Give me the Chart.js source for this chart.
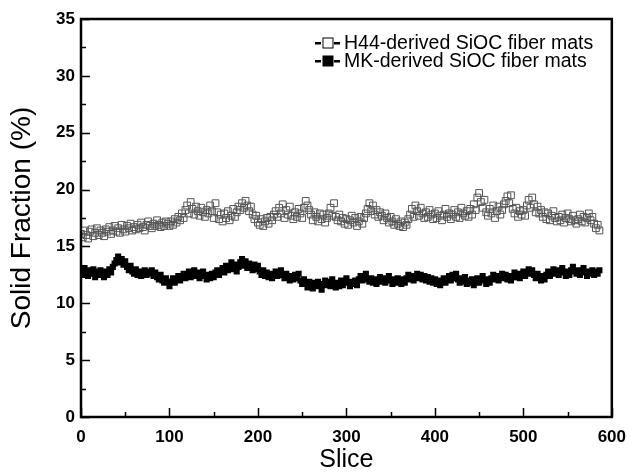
<!DOCTYPE html>
<html>
<head>
<meta charset="utf-8">
<script src="https://cdn.jsdelivr.net/npm/chart.js@4.4.0/dist/chart.umd.min.js"></script>
<style>
    html, body { margin: 0; padding: 0; background: #fff; }
    #wrap { width: 636px; height: 473px; }
</style>
</head>
<body>
<div id="wrap"><canvas id="solidFractionChart" width="636" height="473"></canvas></div>
<script>
// slice spacing between stored points
const sliceStep = 2;

// H44-derived SiOC fiber mats, solid fraction (%) every 2 slices from 0
const h44Values = [
    16.1, 15.8, 16.4, 16.0, 15.7, 16.3, 16.5, 15.9, 16.2, 16.6,
    16.0, 16.4, 16.2, 15.9, 16.5, 16.3, 16.7, 16.1, 16.4, 16.8,
    16.3, 16.6, 16.2, 16.9, 16.5, 16.3, 16.8, 16.6, 17.0, 16.4,
    16.7, 16.5, 16.9, 16.6, 17.1, 16.7, 16.4, 16.9, 17.2, 16.8,
    16.6, 17.0, 16.8, 17.3, 16.9, 16.7, 17.1, 16.8, 17.2, 17.0,
    16.8, 17.2, 16.9, 17.4, 17.1, 17.6, 17.3, 17.9, 17.5, 18.2,
    18.6, 17.9, 18.9, 18.3, 17.8, 18.5, 18.1, 17.7, 18.4, 18.0,
    17.6, 18.2, 17.9, 18.6, 18.1, 17.5, 18.8, 18.0, 17.4, 17.8,
    17.2, 17.9, 17.5, 18.1, 17.3, 17.7, 18.3, 17.6, 18.0, 18.5,
    18.2, 18.8, 18.4, 19.0, 18.6, 18.1, 18.5, 17.8, 17.4, 17.7,
    17.1, 16.9, 17.4, 16.8, 17.2, 17.5, 17.0, 17.6, 17.3, 17.8,
    18.1, 17.6, 18.4, 17.9, 18.7, 17.5, 18.2, 17.8, 18.5, 17.7,
    17.4, 18.0, 17.6, 18.3, 17.9, 17.5, 18.4, 19.0, 18.6, 18.2,
    17.8, 17.3, 18.0, 17.6, 17.2, 17.9, 17.4, 17.8, 17.1, 17.5,
    17.9, 18.4, 17.7, 18.8, 17.6, 17.3, 17.8, 17.2, 17.5, 17.0,
    17.4, 16.9, 17.3, 17.7, 17.1, 17.5, 16.8, 17.2, 17.6, 17.0,
    17.5, 17.9, 18.3, 18.8, 18.1, 18.6, 17.8, 18.2, 17.6, 18.0,
    17.7, 17.3, 17.9, 17.5, 17.1, 17.6, 17.2, 16.9, 17.4, 17.0,
    16.8, 17.2, 16.7, 17.1, 16.9, 17.4, 17.8, 18.3, 17.6, 18.6,
    18.1, 17.7, 18.4, 17.9, 17.5, 18.0, 17.6, 18.2, 17.8, 17.4,
    17.9, 17.5, 18.1, 17.7, 17.3, 17.8, 18.3, 17.6, 17.9, 17.4,
    17.8, 18.2, 17.6, 18.0, 17.5, 18.4, 17.9, 17.7, 18.1, 17.6,
    18.3, 17.8, 18.7, 18.2, 19.3, 19.7, 18.9, 18.4, 19.1, 18.0,
    17.7, 18.3, 17.9, 18.6, 17.5, 18.1, 18.5, 17.8, 18.2, 18.7,
    19.0, 19.4, 18.8, 19.5, 18.3, 17.9, 18.4, 17.6, 18.1, 17.8,
    18.2, 17.7, 18.6, 19.1, 18.4, 19.3, 18.7, 18.0, 18.5, 17.9,
    18.2, 17.6, 18.0, 17.4, 17.9, 17.3, 17.7, 18.1, 17.5, 17.2,
    17.6, 17.3, 17.8, 17.1, 17.5, 17.9, 17.4, 17.2, 17.7, 17.3,
    17.0, 17.4, 17.8, 17.2, 17.6, 17.1, 17.5, 17.9, 17.3, 17.6,
    17.0, 16.6, 16.9, 16.4
];

// MK-derived SiOC fiber mats, solid fraction (%) every 2 slices from 0
const mkValues = [
    12.9, 12.5, 13.1, 12.7, 12.4, 12.9, 12.6, 13.0, 12.3, 12.8,
    12.5, 12.9, 12.6, 12.3, 12.8, 12.5, 13.0, 12.7, 13.2, 13.5,
    13.8, 14.1, 13.6, 13.9, 13.4, 13.7, 13.2, 12.9, 13.3, 12.8,
    12.6, 13.0, 12.5, 12.8, 12.4, 12.7, 12.9, 12.5, 12.8, 12.6,
    12.9, 12.4, 12.7, 12.3, 12.1, 12.5, 12.0, 11.8, 12.2, 11.9,
    11.5, 11.9, 12.2, 11.8, 12.1, 12.4, 12.0, 12.3, 12.6, 12.2,
    12.5, 12.8, 12.3, 12.6, 12.9, 12.4, 12.7, 12.2, 12.5, 12.8,
    12.4, 12.1, 12.5, 12.2, 12.6, 12.3, 12.7, 12.9, 12.5, 12.8,
    13.1, 12.7, 13.3, 12.9, 13.2, 13.6, 13.0, 13.4, 12.8, 13.2,
    13.6, 13.9, 13.3, 13.7, 13.1, 13.5, 13.2, 12.9, 13.4, 13.0,
    13.3, 12.8, 12.5, 12.9, 12.4, 12.7, 12.3, 12.6, 12.2, 12.5,
    12.8, 12.4, 12.7, 12.9, 12.5, 12.2, 12.6, 12.3, 12.0, 12.4,
    12.1, 12.5, 12.2, 12.6, 12.0, 11.7, 12.1, 11.8, 11.4, 11.9,
    11.6, 11.3, 11.8, 11.5, 11.9, 11.6, 11.2, 11.7, 12.0, 11.6,
    11.9, 11.5, 12.1, 11.7, 11.4, 11.8, 11.5, 12.0, 11.6, 11.9,
    12.2, 11.8, 11.5, 11.9, 11.7, 12.0, 11.6, 12.1, 12.4, 12.0,
    12.3, 12.6, 12.1, 11.9, 12.2, 11.8, 12.1, 11.7, 12.0, 12.3,
    11.9, 12.2, 11.8, 12.1, 12.4, 12.0, 11.7, 12.1, 11.8, 12.2,
    12.0, 11.7, 12.1, 11.8, 12.2, 12.5, 12.1, 12.4, 12.0, 12.3,
    12.6, 12.2, 12.5, 12.1, 12.4, 12.0, 12.3, 11.9, 12.2, 11.8,
    12.1, 11.7, 12.0, 11.6, 11.9, 12.2, 11.8, 12.1, 12.4, 12.0,
    12.5, 12.2, 12.6, 12.1, 11.8, 12.2, 11.9, 12.3, 11.7, 12.0,
    11.8, 12.1, 11.6, 11.9, 12.2, 11.8, 12.1, 12.4, 12.0, 11.7,
    12.1, 11.8, 12.2, 12.5, 12.1, 12.4, 12.0, 12.3, 12.6, 12.2,
    12.5, 12.1, 12.4, 12.0, 12.3, 12.7, 12.3, 12.6, 12.2, 12.5,
    12.8, 12.4, 12.7, 13.0, 12.6, 12.9, 12.5, 12.2, 12.6, 12.3,
    12.0, 12.4, 12.1, 12.5, 12.8, 12.4, 12.7, 13.0, 12.6, 12.9,
    12.5, 12.8, 13.1, 12.7, 12.4, 12.8, 12.5, 12.9, 13.2, 12.8,
    12.6, 12.9, 12.5, 12.8, 13.1, 12.7, 12.4, 12.8, 12.6, 12.9,
    12.5, 12.8, 12.6, 12.9
];

const seriesNames = ['H44-derived SiOC fiber mats', 'MK-derived SiOC fiber mats'];
const xTickLabels = [0, 100, 200, 300, 400, 500, 600];
const yTickLabels = [0, 5, 10, 15, 20, 25, 30, 35];

const FONT = 'Arial, "Liberation Sans", Helvetica, sans-serif';

function toPoints(values) {
    return values.map((v, i) => ({ x: i * sliceStep, y: v }));
}

// frame round the plot plus inward major/minor ticks
const frameAndTicks = {
    id: 'frameAndTicks',
    afterDraw(chart) {
        const { ctx, chartArea: a, scales: { x, y } } = chart;
        ctx.save();
        ctx.strokeStyle = '#000';
        ctx.lineWidth = 1.5;
        ctx.beginPath();
        for (let v = 0; v <= 600; v += 50) {
            const px = Math.round(x.getPixelForValue(v)) + 0.5;
            const len = v % 100 === 0 ? 9 : 5;
            ctx.moveTo(px, a.bottom);
            ctx.lineTo(px, a.bottom - len);
        }
        for (let v = 0; v <= 35; v += 2.5) {
            const py = Math.round(y.getPixelForValue(v)) + 0.5;
            const len = v % 5 === 0 ? 9 : 5;
            ctx.moveTo(a.left, py);
            ctx.lineTo(a.left + len, py);
        }
        ctx.stroke();
        ctx.lineWidth = 2.5;
        ctx.strokeRect(a.left, a.top, a.right - a.left, a.bottom - a.top);
        ctx.restore();
    }
};

// legend drawn as "-□- name" rows in the upper right
const dashLegend = {
    id: 'dashLegend',
    afterDraw(chart) {
        const ctx = chart.ctx;
        const rows = [
            { text: seriesNames[0], fill: false, y: 43 },
            { text: seriesNames[1], fill: true, y: 61 }
        ];
        ctx.save();
        ctx.font = '19.5px ' + FONT;
        ctx.textBaseline = 'middle';
        ctx.fillStyle = '#000';
        rows.forEach(r => {
            ctx.fillRect(315, r.y - 1, 6, 2.5);
            ctx.fillRect(334, r.y - 1, 6, 2.5);
            if (r.fill) {
                ctx.fillRect(322.5, r.y - 5.5, 11, 11);
            } else {
                ctx.strokeStyle = '#000';
                ctx.lineWidth = 1;
                ctx.strokeRect(323, r.y - 5, 10, 10);
            }
            ctx.fillText(r.text, 344, r.y + 1);
        });
        ctx.restore();
    }
};

const ctx = document.getElementById('solidFractionChart').getContext('2d');
new Chart(ctx, {
    type: 'scatter',
    data: {
        datasets: [
            {
                label: seriesNames[0],
                data: toPoints(h44Values),
                pointStyle: 'rect',
                pointRadius: 4.8,
                borderWidth: 1,
                borderColor: '#555',
                backgroundColor: 'rgba(0,0,0,0)'
            },
            {
                label: seriesNames[1],
                data: toPoints(mkValues),
                pointStyle: 'rect',
                pointRadius: 4.3,
                borderWidth: 0,
                borderColor: '#000',
                backgroundColor: '#000'
            }
        ]
    },
    options: {
        responsive: false,
        animation: false,
        devicePixelRatio: 1,
        layout: { padding: { top: 19, right: 15, left: 0, bottom: 0 } },
        plugins: {
            legend: { display: false },
            tooltip: { enabled: false }
        },
        scales: {
            x: {
                type: 'linear',
                min: 0,
                max: 600,
                afterFit: s => { s.height = 56; },
                grid: { display: false, drawTicks: false },
                border: { display: false },
                ticks: {
                    stepSize: 100,
                    padding: 10,
                    color: '#000',
                    font: { family: FONT, size: 17, weight: 'bold' },
                    callback: v => xTickLabels.includes(v) ? String(v) : ''
                },
                title: {
                    display: true,
                    text: 'Slice',
                    color: '#000',
                    font: { family: FONT, size: 25, lineHeight: 1 },
                    padding: { top: 0, bottom: 0 }
                }
            },
            y: {
                min: 0,
                max: 35,
                afterFit: s => { s.width = 81; },
                grid: { display: false, drawTicks: false },
                border: { display: false },
                ticks: {
                    stepSize: 5,
                    padding: 6,
                    color: '#000',
                    font: { family: FONT, size: 17, weight: 'bold' },
                    callback: v => yTickLabels.includes(v) ? String(v) : ''
                },
                title: {
                    display: true,
                    text: 'Solid Fraction (%)',
                    color: '#000',
                    font: { family: FONT, size: 28, lineHeight: 1 },
                    padding: { top: 8, bottom: 0 }
                }
            }
        }
    },
    plugins: [frameAndTicks, dashLegend]
});
</script>
</body>
</html>
